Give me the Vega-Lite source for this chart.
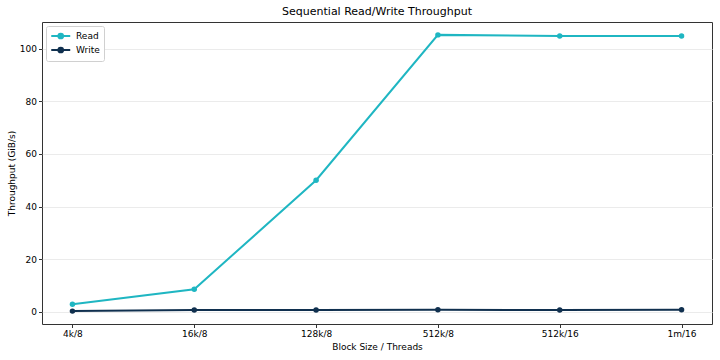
{
  "$schema": "https://vega.github.io/schema/vega-lite/v6.json",
  "autosize": {"type": "none"},
  "padding": {"left": 42, "top": 22, "right": 8, "bottom": 36},
  "width": 670,
  "height": 302,
  "title": {"text": "Sequential Read/Write Throughput", "font": "DejaVu Sans", "fontSize": 11, "fontWeight": "normal", "color": "#000", "offset": 5},
  "config": {
    "view": {"stroke": "#333", "strokeWidth": 1},
    "font": "DejaVu Sans",
    "axis": {"labelFont": "DejaVu Sans", "titleFont": "DejaVu Sans", "labelFontSize": 9, "titleFontSize": 9, "titleFontWeight": "normal", "labelColor": "#000", "titleColor": "#000", "tickColor": "#333", "domain": false, "tickSize": 3.5}
  },
  "data": {"values": [
    {"size": "4k/8", "op": "Read", "value": 2.8},
    {"size": "16k/8", "op": "Read", "value": 8.5},
    {"size": "128k/8", "op": "Read", "value": 50.0},
    {"size": "512k/8", "op": "Read", "value": 105.3},
    {"size": "512k/16", "op": "Read", "value": 104.9},
    {"size": "1m/16", "op": "Read", "value": 104.9},
    {"size": "4k/8", "op": "Write", "value": 0.2},
    {"size": "16k/8", "op": "Write", "value": 0.6},
    {"size": "128k/8", "op": "Write", "value": 0.65},
    {"size": "512k/8", "op": "Write", "value": 0.7},
    {"size": "512k/16", "op": "Write", "value": 0.65},
    {"size": "1m/16", "op": "Write", "value": 0.7}
  ]},
  "mark": {"type": "line", "strokeWidth": 2, "point": {"size": 30, "filled": true, "opacity": 1}},
  "encoding": {
    "x": {"field": "size", "type": "ordinal", "sort": null,
      "scale": {"type": "point", "padding": 0.25},
      "axis": {"title": "Block Size / Threads", "labelAngle": 0, "grid": false, "titlePadding": 4}},
    "y": {"field": "value", "type": "quantitative",
      "scale": {"domain": [-4.7, 110.2], "nice": false, "zero": false},
      "axis": {"title": "Throughput (GiB/s)", "values": [0, 20, 40, 60, 80, 100], "grid": true, "gridColor": "#ebebeb", "gridWidth": 1, "titlePadding": 3}},
    "color": {"field": "op", "type": "nominal",
      "scale": {"domain": ["Read", "Write"], "range": ["#1fb6c2", "#10304f"]},
      "legend": {"title": null, "orient": "top-left", "offset": 4, "strokeColor": "#d0d0d0", "fillColor": "white", "padding": 4, "cornerRadius": 2,
        "labelFontSize": 9, "labelFont": "DejaVu Sans", "labelColor": "#000", "labelOffset": 14,
        "symbolType": "M-1,0H3M0.5,0A0.5,0.5 0 1,1 1.5,0A0.5,0.5 0 1,1 0.5,0Z",
        "symbolSize": 90, "symbolStrokeWidth": 2, "rowPadding": 0}}
  }
}
